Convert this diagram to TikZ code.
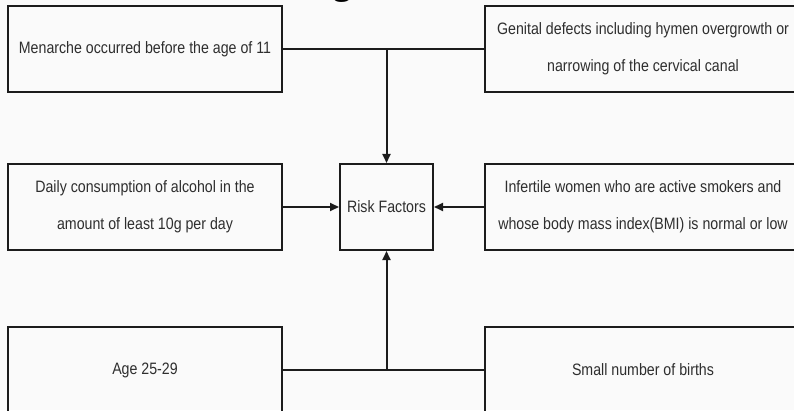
\documentclass[tikz,border=0pt]{standalone}
\usepackage{fontspec}
\setmainfont[FakeStretch=0.86]{Liberation Sans}
\newfontfamily\headfont{Liberation Serif}
\usepackage{tikz}
\usetikzlibrary{positioning,arrows.meta}
\usepackage{xcolor}
\definecolor{paper}{HTML}{FAFAFA}
\definecolor{ink}{HTML}{1C1C1C}
\definecolor{textgray}{HTML}{2E2E2E}

\begin{document}
\begin{tikzpicture}[x=1pt, y=1pt,
		box/.style={shape=rectangle, draw=ink, line width=2pt, minimum height=86pt, align=center, text=textgray, font=\fontsize{16.5}{37}\selectfont},
		leftbox/.style={box, minimum width=274pt},
		rightbox/.style={box, minimum width=316pt},
		link/.style={color=ink, line width=2pt},
		>={Triangle[length=9pt, width=8pt]}]
		\fill[paper] (0, 0) rectangle (794, 410);
		\useasboundingbox (0, 0) rectangle (794, 410);
		
		% cut off heading
		\node[inner sep=0pt, anchor=base, font=\headfont\bfseries\fontsize{36}{36}\selectfont] (head) at (342, 415) {g};
		
		\node[leftbox] (men) at (145, 361)     {Menarche occurred before the age of 11};
		\node[rightbox] (gen) at (643, 361)     {Genital defects including hymen overgrowth or\\narrowing of the cervical canal};
		\node[leftbox] (alc) at (145, 203)     {Daily consumption of alcohol in the\\amount of least 10g per day};
		\node[box, minimum width=93pt] (risk) at (386.5, 203)     {Risk Factors};
		\node[rightbox] (inf) at (643, 203)     {Infertile women who are active smokers and\\whose body mass index(BMI) is normal or low};
		\node[leftbox] (age) at (145, 40)     {Age 25-29};
		\node[rightbox] (birth) at (643, 40)     {Small number of births};
		
		\coordinate (up) at (risk |- men);
		\coordinate (down) at (risk |- age);
		
		\path[-, link] (men) edge (gen);
		\path[->, link] (up) edge (risk);
		\path[->, link] (alc) edge (risk);
		\path[->, link] (inf) edge (risk);
		\path[-, link] (age) edge (birth);
		\path[->, link] (down) edge (risk);
		\end{tikzpicture}
\end{document}
